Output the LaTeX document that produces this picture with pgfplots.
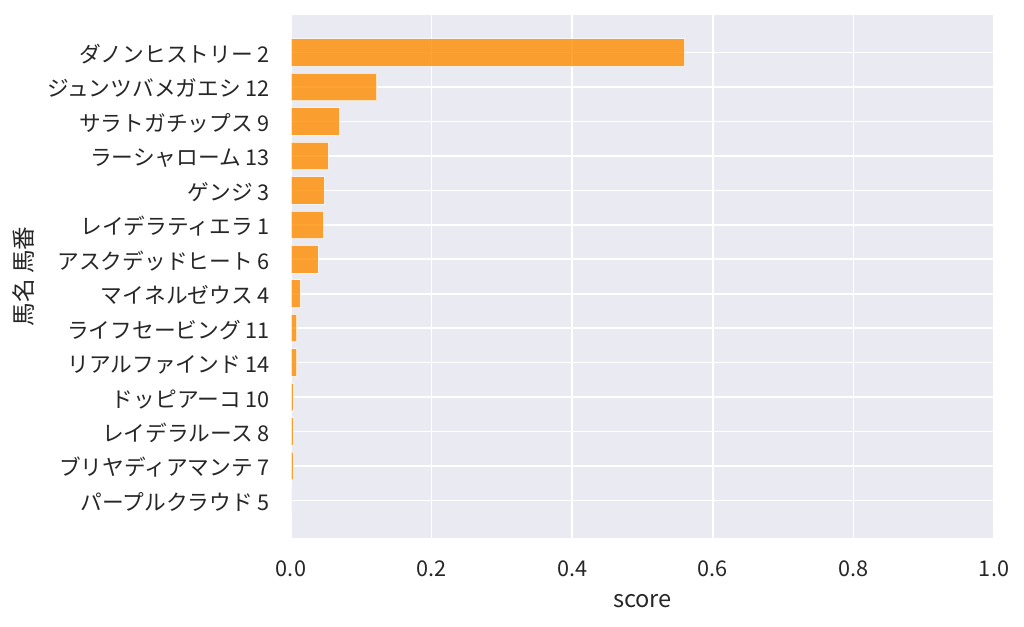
\documentclass[border=0pt]{standalone}
\usepackage{fontspec}
\setmainfont{Noto Sans CJK JP}
\usepackage{pgfplots}
\pgfplotsset{compat=1.18}
\definecolor{bg}{HTML}{EAEAF2}
\definecolor{txt}{HTML}{262626}
\definecolor{darkorange}{HTML}{FF8C00}
\begin{document}
\begin{tikzpicture}[x=1bp,y=1bp]
\useasboundingbox (0,0) rectangle (1024,627);
\begin{axis}[
  at={(291bp,89bp)}, anchor=south west,
  scale only axis, width=703bp, height=523bp,
  xmin=0, xmax=1, ymin=-1.09, ymax=14.09, y dir=reverse,
  axis background/.style={fill=bg},
  axis line style={draw=none},
  major tick length=0pt,
  grid=major, grid style={white, line width=1.6bp},
  xtick={0,0.2,0.4,0.6,0.8,1.0},
  xticklabels={0.0,0.2,0.4,0.6,0.8,1.0},
  ytick={0,1,2,3,4,5,6,7,8,9,10,11,12,13},
  yticklabels={ダノンヒストリー 2,ジュンツバメガエシ 12,サラトガチップス 9,ラーシャローム 13,ゲンジ 3,レイデラティエラ 1,アスクデッドヒート 6,マイネルゼウス 4,ライフセービング 11,リアルファインド 14,ドッピアーコ 10,レイデラルース 8,ブリヤディアマンテ 7,パープルクラウド 5},
  tick label style={font=\fontsize{21.7bp}{26bp}\selectfont, text=txt, inner sep=0pt},
  xticklabel style={anchor=base, yshift=-38bp},
  yticklabel style={anchor=base east, xshift=-21bp, yshift=-10bp},
  /pgf/number format/assume math mode=true,
  xlabel={score}, ylabel={馬名 馬番},
  label style={font=\fontsize{23.6bp}{28bp}\selectfont, text=txt, inner sep=0pt},
  xlabel style={at={(axis description cs:0.5,0)}, anchor=base, yshift=-69bp},
  ylabel style={at={(axis description cs:0,0.5)}, anchor=center, yshift=267bp},
]
\addplot[xbar, bar width=0.8, fill=darkorange, fill opacity=0.8, draw=white, draw opacity=0.7, line width=1bp]
coordinates {
(0.560,0) (0.122,1) (0.069,2) (0.053,3) (0.0475,4) (0.0465,5) (0.0385,6)
(0.0135,7) (0.0085,8) (0.0085,9) (0.0032,10) (0.0032,11) (0.0032,12) (0.0,13)
};
\end{axis}
\end{tikzpicture}
\end{document}
